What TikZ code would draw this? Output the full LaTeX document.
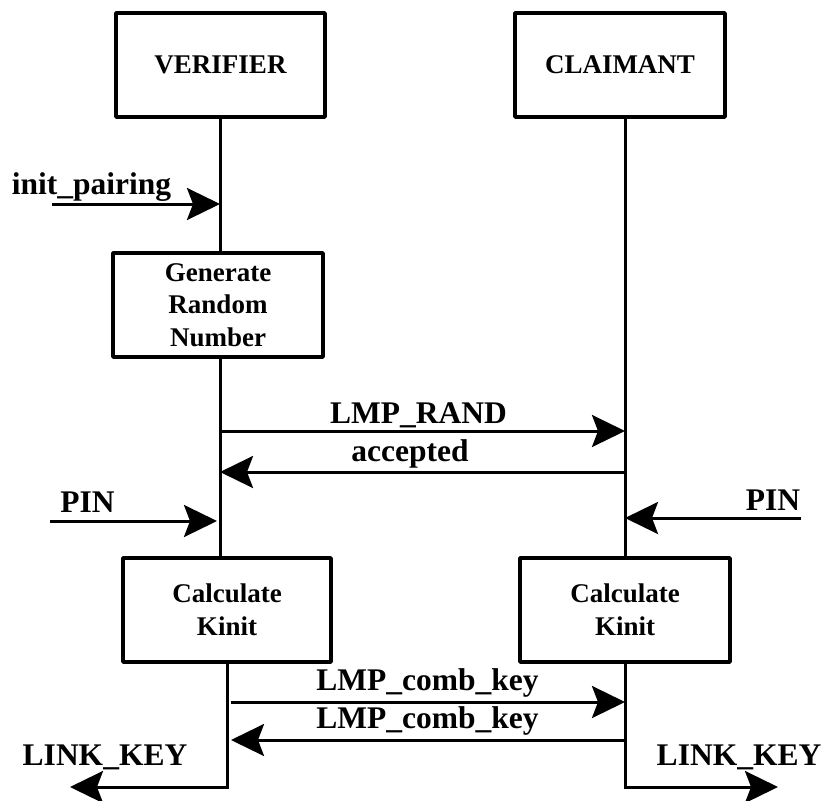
\documentclass[tikz,border=0pt]{standalone}
\usepackage{fontspec}
\setmainfont{Liberation Serif}
\usetikzlibrary{arrows.meta}
\begin{document}
\begin{tikzpicture}[x=1pt,y=-1pt,
  entity/.style={draw, line width=3.5pt, line join=round, minimum width=209pt,
    minimum height=104pt, inner sep=0pt, align=center,
    font=\fontsize{27}{32.5}\selectfont\bfseries},
  life/.style={line width=3pt},
  msg/.style={line width=3pt, -{Stealth[length=33pt,width=32pt,inset=6pt]}},
  lbl/.style={inner sep=0pt, anchor=base,
    font=\fontsize{31.5}{36}\selectfont\bfseries}]
\useasboundingbox (0,0) rectangle (826,800);
\fill[white] (0,0) rectangle (826,800);

% lifeline positions
\coordinate (vx) at (220,0);
\coordinate (cx) at (625,0);

% entities and processing steps
\node[entity] (ver) at (220.5,65) {VERIFIER};
\node[entity, minimum width=210pt] (cla) at (620,65) {CLAIMANT};
\node[entity, minimum width=210pt] (gen) at (218,305) {Generate\\Random\\Number};
\node[entity, minimum width=208pt] (calcL) at (227,610) {Calculate\\Kinit};
\node[entity, minimum width=210pt] (calcR) at (625,610) {Calculate\\Kinit};

% lifelines
\draw[life] (vx |- ver.south) -- (vx |- gen.north);
\draw[life] (vx |- gen.south) -- (vx |- calcL.north);
\draw[life] (cx |- cla.south) -- (cx |- calcR.north);

% message end points
\coordinate (initS) at (52,204);   \coordinate (initE) at (220,204);
\coordinate (randS) at (220,431);  \coordinate (randE) at (625,431);
\coordinate (accS) at (625,472);   \coordinate (accE) at (220,472);
\coordinate (pinLS) at (50,521);   \coordinate (pinLE) at (217,521);
\coordinate (pinRS) at (801,518);  \coordinate (pinRE) at (625,518);
\coordinate (combAS) at (231,702); \coordinate (combAE) at (625,702);
\coordinate (combBS) at (625,740); \coordinate (combBE) at (231,740);
\coordinate (lkL) at (70,787);
\coordinate (lkR) at (778,787);

% messages
\draw[msg] (initS) -- (initE);
\draw[msg] (randS) -- (randE);
\draw[msg] (accS) -- (accE);
\draw[msg] (pinLS) -- (pinLE);
\draw[msg] (pinRS) -- (pinRE);
\draw[msg] (combAS) -- (combAE);
\draw[msg] (combBS) -- (combBE);
\draw[msg] (calcL.south) |- (lkL);
\draw[msg] (calcR.south) |- (lkR);

% labels
\node[lbl] (tInit) at (91.5,194) {init\_pairing};
\node[lbl] (tRand) at (418.5,423) {LMP\_RAND};
\node[lbl] (tAcc) at (410,461) {accepted};
\node[lbl] (tPinL) at (87.5,512) {PIN};
\node[lbl] (tPinR) at (773,510) {PIN};
\node[lbl] (tCombA) at (427.5,690) {LMP\_comb\_key};
\node[lbl] (tCombB) at (427.5,728) {LMP\_comb\_key};
\node[lbl] (tLkL) at (105,765) {LINK\_KEY};
\node[lbl] (tLkR) at (739,765) {LINK\_KEY};
\end{tikzpicture}
\end{document}
